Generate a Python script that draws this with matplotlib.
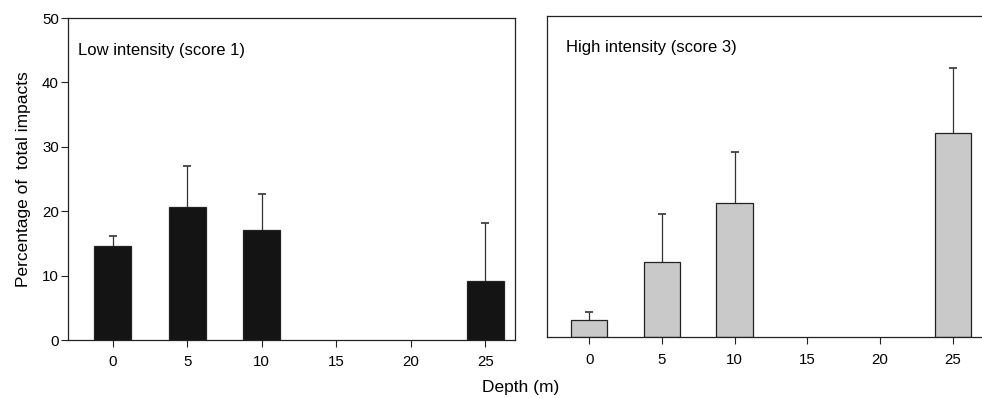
import numpy as np
import matplotlib.pyplot as plt

plt.rcParams['font.family'] = ['Liberation Sans', 'DejaVu Sans']

depth = [0, 5, 10, 15, 20, 25]
low_mean = [14.6, 20.7, 17.1, 0, 0, 9.2]
low_err = [1.6, 6.3, 5.5, 0, 0, 8.9]
high_mean = [2.7, 11.7, 20.9, 0, 0, 31.8]
high_err = [1.3, 7.4, 7.9, 0, 0, 10.0]

fig = plt.figure(figsize=(9.82, 3.98), dpi=100)
ax1 = fig.add_axes([0.0692, 0.1457, 0.4552, 0.809])
ax2 = fig.add_axes([0.557, 0.1525, 0.443, 0.808])

edge = '#222222'


def draw(ax, mean, err, color):
    x = [d for d, m in zip(depth, mean) if m > 0]
    m = [v for v in mean if v > 0]
    e = [v for v, mm in zip(err, mean) if mm > 0]
    ax.bar(x, m, width=2.5, color=color, edgecolor=edge, linewidth=0.9, zorder=2)
    eb = ax.errorbar(x, m, yerr=[np.zeros(len(e)), e], fmt='none', ecolor='#333333',
                     elinewidth=0.9, capsize=3, capthick=1.2, zorder=1)
    eb[1][0].set_visible(False)
    ax.set_xlim(-3, 27)
    ax.set_ylim(0, 50)
    ax.set_xticks(depth)
    ax.tick_params(direction='out', length=5, width=0.8, labelsize=10.8, color=edge)
    ax.tick_params(axis='x', pad=6)
    ax.tick_params(axis='y', pad=1.5)
    for s in ax.spines.values():
        s.set_linewidth(0.9)
        s.set_color(edge)


draw(ax1, low_mean, low_err, '#141414')
draw(ax2, high_mean, high_err, '#c9c9ca')

ax1.set_yticks([0, 10, 20, 30, 40, 50])
ax1.set_ylabel('Percentage of  total impacts', fontsize=12.5, labelpad=8)
ax1.text(0.022, 0.9, 'Low intensity (score 1)', transform=ax1.transAxes,
         fontsize=12, va='center')

ax2.set_yticks([])
ax2.set_xlim(-2.9, 27)
ax2.spines['right'].set_visible(False)
ax2.text(0.0435, 0.9, 'High intensity (score 3)', transform=ax2.transAxes,
         fontsize=12, va='center')

fig.text(0.53, 0.027, 'Depth (m)', ha='center', va='center', fontsize=12.5)

fig.savefig('out.png', dpi=100)
